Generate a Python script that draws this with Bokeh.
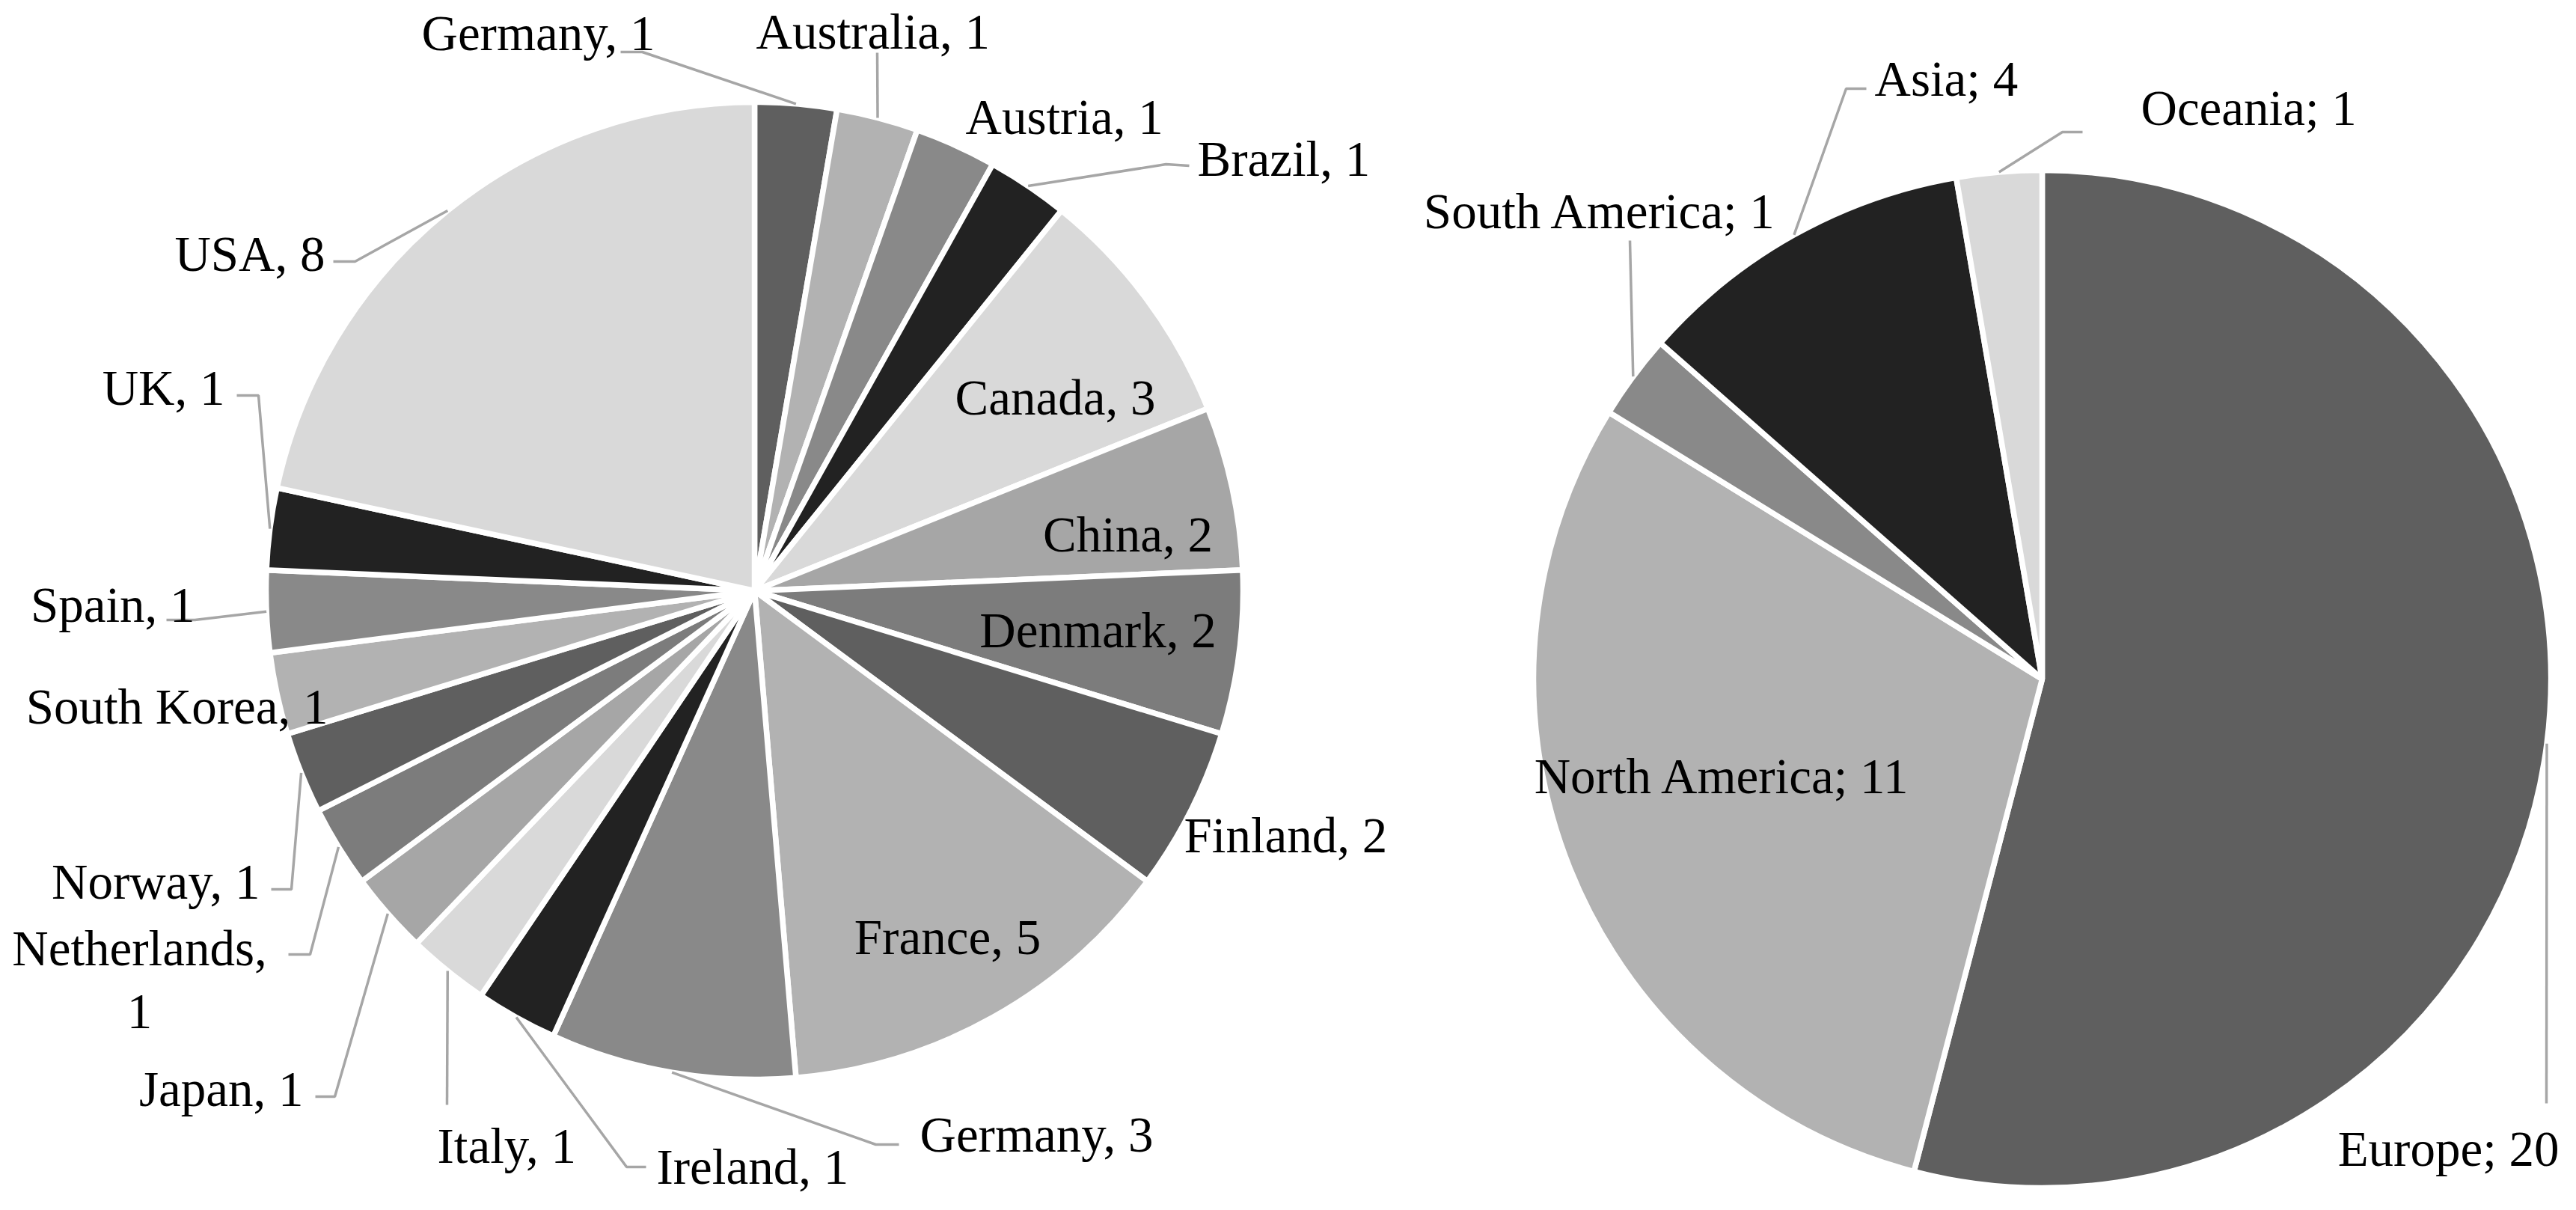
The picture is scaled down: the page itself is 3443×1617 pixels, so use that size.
import math
from bokeh.plotting import figure
from bokeh.models import Range1d, ColumnDataSource
from bokeh.core.properties import value
from bokeh.embed import file_html
from bokeh.resources import INLINE

# ---------------- data ----------------
countries = ["Germany", "Australia", "Austria", "Brazil", "Canada", "China", "Denmark",
             "Finland", "France", "Germany", "Ireland", "Italy", "Japan", "Netherlands",
             "Norway", "South Korea", "Spain", "UK", "USA"]
country_counts = [1, 1, 1, 1, 3, 2, 2, 2, 5, 3, 1, 1, 1, 1, 1, 1, 1, 1, 8]

continents = ["Europe", "North America", "South America", "Asia", "Oceania"]
continent_counts = [20, 11, 1, 4, 1]

# ---------------- styles / layout ----------------
PALETTE = ["#5f5f5f", "#b2b2b2", "#898989", "#222222", "#d9d9d9", "#a6a6a6", "#7c7c7c"]
LEADER = "#a6a6a6"
FONT = "Liberation Serif"
FSIZE = "67px"
H = 1617         # page pixel height (layout coordinates are screen pixels, y down)
TEXT_SHIFT = 11  # baseline correction (px, upward)
W_FIG, H_FIG = 3422, 1594

LEFT_PIE = dict(cx=1016, cy=797, r=653)
RIGHT_PIE = dict(cx=2737, cy=915, r=680)

# label layout: (align, x, baseline_y, leader points from label towards the pie)
left_layout = [
    ("left", 571, 62, [(837, 77), (866, 77)]),
    ("left", 1018, 60, [(1180, 78)]),
    ("left", 1298, 174, []),
    ("left", 1608, 230, [(1597, 229), (1566, 227)]),
    ("center", 1418, 549, []),
    ("center", 1515, 732, []),
    ("center", 1475, 860, []),
    ("left", 1590, 1134, []),
    ("center", 1274, 1270, []),
    ("left", 1237, 1534, [(1209, 1537), (1178, 1537)]),
    ("left", 885, 1577, [(871, 1567), (845, 1567)]),
    ("left", 592, 1549, [(605, 1484)]),
    ("right", 413, 1473, [(429, 1473), (455, 1473)]),
    ("center", 194, 1285, [(393, 1283), (422, 1283)]),
    ("right", 355, 1196, [(370, 1196), (397, 1196)]),
    ("right", 446, 962, []),
    ("right", 268, 826, [(230, 836), (268, 836)]),
    ("right", 308, 536, [(324, 536), (353, 536)]),
    ("right", 442, 357, [(453, 357), (482, 357)]),
]
right_layout = [
    ("right", 3428, 1553, [(3411, 1482)]),
    ("center", 2310, 1055, []),
    ("right", 2383, 300, [(2186, 329)]),
    ("left", 2513, 123, [(2502, 126), (2475, 126)]),
    ("left", 2869, 162, [(2791, 184), (2764, 184)]),
]

p = figure(width=W_FIG, height=H_FIG,
           x_range=Range1d(8, 8 + W_FIG), y_range=Range1d(H - 8 - H_FIG, H - 8),
           output_backend="svg", toolbar_location=None, min_border=0,
           x_axis_type=None, y_axis_type=None)
p.grid.visible = False
p.outline_line_color = None
p.background_fill_color = "white"
p.border_fill_color = "white"


def draw_pie(names, counts, pie, layout, sep):
    total = float(sum(counts))
    cx, cy, r = pie["cx"], H - pie["cy"], pie["r"]
    starts, ends, mids, colors = [], [], [], []
    cum = 0.0
    for i, c in enumerate(counts):
        a0 = math.pi / 2 - 2 * math.pi * cum / total
        a1 = math.pi / 2 - 2 * math.pi * (cum + c) / total
        starts.append(a0)
        ends.append(a1)
        mids.append((a0 + a1) / 2)
        colors.append(PALETTE[i % len(PALETTE)])
        cum += c
    src = ColumnDataSource(dict(start=starts, end=ends, color=colors))
    p.wedge(x=cx, y=cy, radius=r, start_angle="start", end_angle="end", direction="clock",
            fill_color="color", line_color="white", line_width=7.5, source=src)

    # leaders
    lx, ly = [], []
    for (align, x, by, pts), m in zip(layout, mids):
        if not pts:
            continue
        ex = cx + r * math.cos(m)
        ey = cy + r * math.sin(m)
        lx.append([pt[0] for pt in pts] + [ex])
        ly.append([H - pt[1] for pt in pts] + [ey])
    p.multi_line(xs=lx, ys=ly, line_color=LEADER, line_width=3.5)

    # labels
    for name, c, (align, x, by, pts) in zip(names, counts, layout):
        if name == "Netherlands":
            lines = [f"{name}{sep}", f"{c}"]
        else:
            lines = [f"{name}{sep} {c}"]
        for k, line in enumerate(lines):
            p.text(x=[x], y=[H - by + TEXT_SHIFT - k * 85], text=[line], text_align=align,
                   text_baseline="alphabetic", text_font=value(FONT),
                   text_font_size=value(FSIZE), text_color="#000000")


draw_pie(countries, country_counts, LEFT_PIE, left_layout, ",")
draw_pie(continents, continent_counts, RIGHT_PIE, right_layout, ";")

open("out.html", "w").write(file_html(p, INLINE))
